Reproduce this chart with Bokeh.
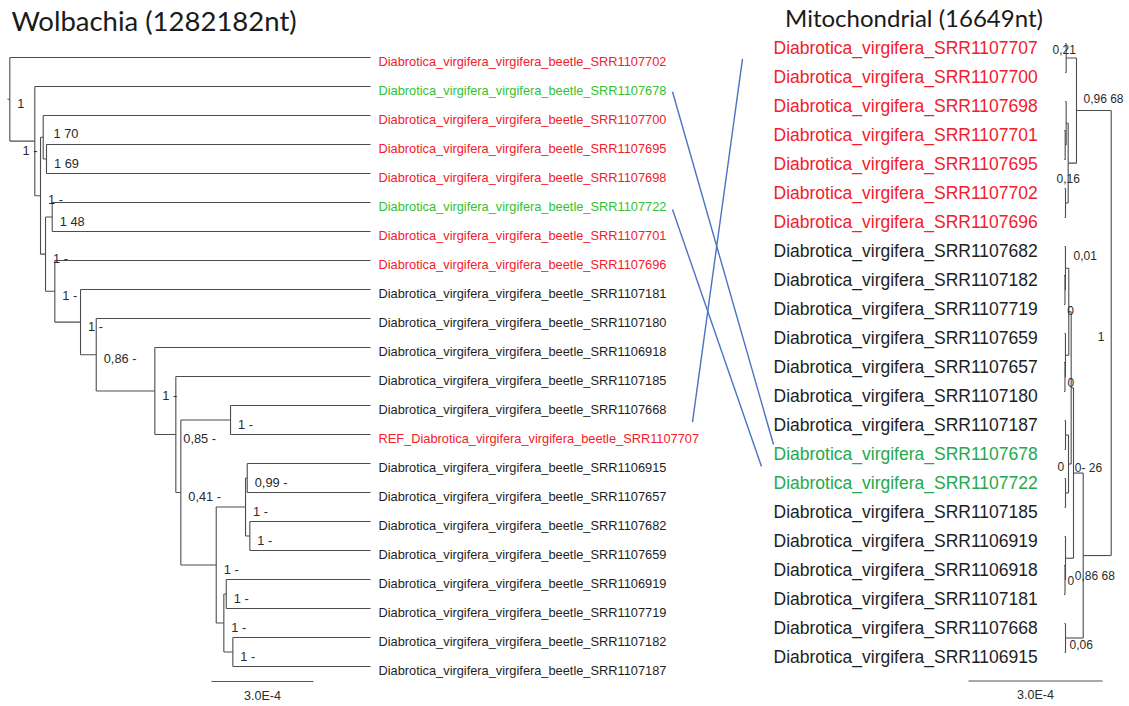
from bokeh.plotting import figure
from bokeh.models import Range1d, ColumnDataSource
from bokeh.embed import file_html
from bokeh.resources import INLINE
from bokeh.core.properties import value

# ======================= DATA =======================
left_title = "Wolbachia (1282182nt)"
right_title = "Mitochondrial (16649nt)"
scale_bar_label = "3.0E-4"
scale_bar_length = 3.0e-4   # substitutions / site

# Wolbachia tree (tips drawn aligned), internal branch lengths in subs/site
left_newick = (
    "(SRR1107702,(SRR1107678,((SRR1107700,(SRR1107695,SRR1107698)nD:9.7e-6)nC:7.9e-6,"
    "((SRR1107722,SRR1107701)nE:1.97e-5,(SRR1107696,(SRR1107181,(SRR1107180,(SRR1106918,"
    "(SRR1107185,((SRR1107668,SRR1107707)nM:1.462e-4,(((SRR1106915,SRR1107657)nQ:5.0e-6,"
    "(SRR1107682,SRR1107659)nR:1.26e-5)nO:8.62e-5,((SRR1106919,SRR1107719)nS:7.1e-6,"
    "(SRR1107182,SRR1107187)nT:2.65e-5)nP:2.24e-5)nN:1.041e-4)nL:1.47e-5)nK:6.18e-5)"
    "nJ:1.723e-4)nI:4.62e-5)nH:7.56e-5)nG:2.74e-5)nF:1.47e-5)nB:1.68e-5)nA:7.35e-5)nRoot:6.8e-6;"
)
left_tip_ids = ["SRR1107702", "SRR1107678", "SRR1107700", "SRR1107695", "SRR1107698",
                "SRR1107722", "SRR1107701", "SRR1107696", "SRR1107181", "SRR1107180",
                "SRR1106918", "SRR1107185", "SRR1107668", "SRR1107707", "SRR1106915",
                "SRR1107657", "SRR1107682", "SRR1107659", "SRR1106919", "SRR1107719",
                "SRR1107182", "SRR1107187"]
left_tip_labels = ["Diabrotica_virgifera_virgifera_beetle_" + t for t in left_tip_ids]
left_tip_labels[13] = "REF_Diabrotica_virgifera_virgifera_beetle_SRR1107707"
left_tip_groups = ["red", "green", "red", "red", "red", "green", "red", "red",
                   "black", "black", "black", "black", "black", "red", "black",
                   "black", "black", "black", "black", "black", "black", "black"]
left_support_nodes = ["nRoot", "nA", "nC", "nD", "nB", "nE", "nF", "nG", "nH", "nI", "nJ",
                      "nM", "nK", "nQ", "nL", "nO", "nR", "nN", "nS", "nP", "nT"]
left_support_text = ["1", "1 -", "1 70", "1 69", "1 -", "1 48", "1 -", "1 -", "1 -", "0,86 -",
                     "1 -", "1 -", "0,85 -", "0,99 -", "0,41 -", "1 -", "1 -", "1 -", "1 -",
                     "1 -", "1 -"]

# Mitochondrial tree, branch lengths in subs/site
right_newick = (
    "(((SRR1107707:2.2e-6,SRR1107700:2.2e-6)nU1:2.31e-5,((SRR1107698:2.2e-6,"
    "(SRR1107701:2.2e-6,SRR1107695:2.2e-6)nV1in:2.2e-6)nV1:4.5e-6,"
    "(SRR1107702:2.2e-6,SRR1107696:2.2e-6)nV2:6.0e-6)nU2:1.86e-5)nU:7.77e-5,"
    "(((((SRR1107682:2.2e-6,(SRR1107182:2.2e-6,SRR1107719:2.2e-6)nQin:1.1e-6)nQp:7.4e-6,"
    "(SRR1107659:2.2e-6,(SRR1107657:2.2e-6,SRR1107180:2.2e-6)nRin:1.1e-6)nRp:7.4e-6)nW:5.4e-6,"
    "((SRR1107187:2.2e-6,SRR1107678:2.2e-6)nZ1:6.7e-6,"
    "(SRR1107722:2.2e-6,SRR1107185:2.2e-6)nZ2:6.7e-6)nZ:6.0e-6)nX:5.2e-6,"
    "(SRR1106919:2.2e-6,(SRR1106918:2.2e-6,SRR1107181:2.2e-6)nYin:1.1e-6)nY:1.79e-5)nL1:2.17e-5,"
    "(SRR1107668:2.2e-6,SRR1106915:2.2e-6)nL2:3.96e-5)nL:6.27e-5)nRoot;"
)
right_tip_ids = ["SRR1107707", "SRR1107700", "SRR1107698", "SRR1107701", "SRR1107695",
                 "SRR1107702", "SRR1107696", "SRR1107682", "SRR1107182", "SRR1107719",
                 "SRR1107659", "SRR1107657", "SRR1107180", "SRR1107187", "SRR1107678",
                 "SRR1107722", "SRR1107185", "SRR1106919", "SRR1106918", "SRR1107181",
                 "SRR1107668", "SRR1106915"]
right_tip_labels = ["Diabrotica_virgifera_" + t for t in right_tip_ids]
right_tip_groups = ["red"] * 7 + ["black"] * 7 + ["green"] * 2 + ["black"] * 6
right_support_nodes = ["nU1", "nU", "nU2", "nQp", "nW", "nRoot", "nX", "nZ", "nL1", "nL", "nYin", "nL2"]
right_support_text = ["0,21", "0,96 68", "0,16", "0,01", "0", "1", "0", "0", "0- 26", "0,86 68", "0", "0,06"]

# tanglegram links (same sample in both trees)
links = [("SRR1107678", "SRR1107678"), ("SRR1107722", "SRR1107722"), ("SRR1107707", "SRR1107707")]

# ======================= STYLE / LAYOUT =======================
W, H = 1128, 705
LEFT_ORIGIN_X = 7.0
LEFT_PX_PER_UNIT = 102.0 / 3.0e-4
LEFT_TIP_END_X = 370.0
LEFT_FIRST_Y, ROW = 57.0, 29.0
LEFT_LABEL_X, LABEL_DY = 378.0, 4.0
RIGHT_ROOT_X = 1110.7
RIGHT_PX_PER_UNIT = 134.0 / 3.0e-4
RIGHT_FIRST_Y = 43.0
RIGHT_LABEL_X = 773.0
COLORS_L = {"red": "#f2202b", "green": "#33c233", "black": "#1e1e1e"}
COLORS_R = {"red": "#f2202b", "green": "#26a84c", "black": "#1e1e1e"}
TREE_COLOR = "#4d4d4d"
LINK_COLOR = "#4a74c2"
FONT = "Liberation Sans"
left_offsets = {"nA": (-12.3, 9.2), "nC": (10.3, -4.0)}
left_default_offset = (7.5, 4.2)
right_offsets = {"nU1": (-13.7, -8.5), "nU": (7.0, -12.0), "nU2": (-11.7, 15.0),
                 "nQp": (8.0, -12.5), "nW": (-1.5, -1.0), "nRoot": (-13.5, 3.0),
                 "nX": (-3.7, -5.0), "nZ": (-11.0, 2.5), "nL1": (1.3, -5.3),
                 "nL": (-8.4, 20.0), "nYin": (2.5, 0.0), "nL2": (4.0, 6.5)}
# link anchors: (left x, dy from left label row, right x, dy from right label row)
link_anchor = [(672, 1.3, 773, -9.0), (672, 3.0, 761, -16.0), (692, -16.3, 742, 11.3)]


def parse_newick(s):
    s = "".join(s.split()).rstrip(";")
    pos = 0

    def node():
        nonlocal pos
        n = {"children": [], "name": "", "length": 0.0}
        if s[pos] == "(":
            pos += 1
            while True:
                n["children"].append(node())
                c = s[pos]
                pos += 1
                if c == ")":
                    break
        st = pos
        while pos < len(s) and s[pos] not in ":,()":
            pos += 1
        n["name"] = s[st:pos]
        if pos < len(s) and s[pos] == ":":
            pos += 1
            st = pos
            while pos < len(s) and s[pos] not in ",()":
                pos += 1
            n["length"] = float(s[st:pos])
        return n
    return node()


def layout(root, first_y):
    counter = [0]

    def rec(n, depth):
        n["depth"] = depth + n["length"]
        if not n["children"]:
            n["y"] = first_y + ROW * counter[0]
            counter[0] += 1
        else:
            for c in n["children"]:
                rec(c, n["depth"])
            n["y"] = 0.5 * (n["children"][0]["y"] + n["children"][-1]["y"])
    rec(root, 0.0)


def walk(n):
    yield n
    for c in n["children"]:
        yield from walk(c)


ltree = parse_newick(left_newick)
rtree = parse_newick(right_newick)
layout(ltree, LEFT_FIRST_Y)
layout(rtree, RIGHT_FIRST_Y)


def lx(n):
    if not n["children"]:
        return LEFT_TIP_END_X
    return LEFT_ORIGIN_X + n["depth"] * LEFT_PX_PER_UNIT


def rx(n):
    return RIGHT_ROOT_X - n["depth"] * RIGHT_PX_PER_UNIT


def segments(root, fx, root_stub_x):
    x0, y0, x1, y1 = [], [], [], []
    if root_stub_x is not None:
        x0.append(root_stub_x); y0.append(root["y"]); x1.append(fx(root)); y1.append(root["y"])
    for n in walk(root):
        if n["children"]:
            x0.append(fx(n)); x1.append(fx(n))
            y0.append(n["children"][0]["y"]); y1.append(n["children"][-1]["y"])
            for c in n["children"]:
                x0.append(fx(n)); x1.append(fx(c)); y0.append(c["y"]); y1.append(c["y"])
    return dict(x0=x0, y0=y0, x1=x1, y1=y1)


p = figure(width=W, height=H, output_backend="svg", toolbar_location=None,
           x_range=Range1d(0, W), y_range=Range1d(H, 0), min_border=0)
p.axis.visible = False
p.grid.visible = False
p.outline_line_color = None
p.background_fill_color = "white"
p.border_fill_color = "white"

p.segment("x0", "y0", "x1", "y1", source=ColumnDataSource(segments(ltree, lx, LEFT_ORIGIN_X)),
          line_color=TREE_COLOR, line_width=1.1)
p.segment("x0", "y0", "x1", "y1", source=ColumnDataSource(segments(rtree, rx, None)),
          line_color=TREE_COLOR, line_width=1.1)

# tip labels
lrow = {n["name"]: n["y"] for n in walk(ltree) if not n["children"]}
rrow = {n["name"]: n["y"] for n in walk(rtree) if not n["children"]}
p.text(x=[LEFT_LABEL_X] * len(left_tip_ids), y=[lrow[t] + LABEL_DY for t in left_tip_ids],
       text=left_tip_labels, text_color=[COLORS_L[g] for g in left_tip_groups],
       text_font=value(FONT), text_font_size=value("12.8px"), text_baseline="middle", text_align="left")
p.text(x=[RIGHT_LABEL_X] * len(right_tip_ids), y=[rrow[t] + LABEL_DY for t in right_tip_ids],
       text=right_tip_labels, text_color=[COLORS_R[g] for g in right_tip_groups],
       text_font=value(FONT), text_font_size=value("17.5px"), text_baseline="middle", text_align="left")

# support labels
lnodes = {n["name"]: n for n in walk(ltree)}
rnodes = {n["name"]: n for n in walk(rtree)}
sx, sy = [], []
for nm in left_support_nodes:
    n = lnodes[nm]
    dx, dy = left_offsets.get(nm, left_default_offset)
    sx.append(lx(n) + dx); sy.append(n["y"] + dy)
p.text(x=sx, y=sy, text=left_support_text, text_color="#2a2a2a", text_font=value(FONT),
       text_font_size=value("12.8px"), text_baseline="middle", text_align="left")
sx, sy = [], []
for nm in right_support_nodes:
    n = rnodes[nm]
    dx, dy = right_offsets[nm]
    sx.append(rx(n) + dx); sy.append(n["y"] + dy)
p.text(x=sx, y=sy, text=right_support_text, text_color="#2a2a2a", text_font=value(FONT),
       text_font_size=value("12px"), text_baseline="middle", text_align="left")

# links
lx0, ly0, lx1, ly1 = [], [], [], []
for (a, b), (ax, ady, bx, bdy) in zip(links, link_anchor):
    lx0.append(ax); ly0.append(lrow[a] + LABEL_DY + ady)
    lx1.append(bx); ly1.append(rrow[b] + LABEL_DY + bdy)
p.segment(lx0, ly0, lx1, ly1, line_color=LINK_COLOR, line_width=1.4)

# titles
p.text(x=[153.5], y=[20.0], text=[left_title], text_color="#1a1a1a",
       text_font=value("Lato"), text_font_size=value("27.5px"), text_baseline="middle", text_align="center")
p.text(x=[913.5], y=[17.0], text=[right_title], text_color="#1a1a1a",
       text_font=value("Lato"), text_font_size=value("24px"), text_baseline="middle", text_align="center")

# scale bars
sb_l0 = 211.0
sb_r0 = 968.0
p.segment([sb_l0, sb_r0], [681.0, 680.5],
          [sb_l0 + scale_bar_length * LEFT_PX_PER_UNIT, sb_r0 + scale_bar_length * RIGHT_PX_PER_UNIT],
          [681.0, 680.5], line_color="#555555", line_width=1.1)
p.text(x=[sb_l0 + scale_bar_length * LEFT_PX_PER_UNIT / 2, sb_r0 + scale_bar_length * RIGHT_PX_PER_UNIT / 2],
       y=[695.0, 694.0], text=[scale_bar_label, scale_bar_label], text_color="#2a2a2a",
       text_font=value(FONT), text_font_size=value("12.5px"), text_baseline="middle", text_align="center")

open("out.html", "w").write(file_html(p, INLINE))
